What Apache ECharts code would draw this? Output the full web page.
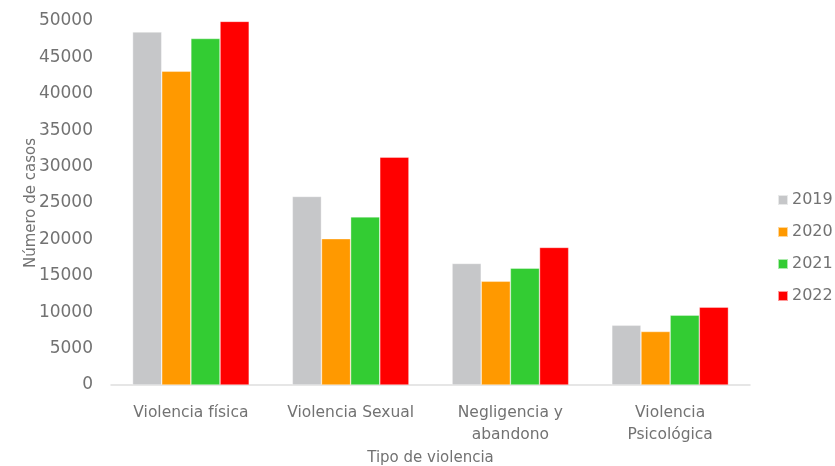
<!DOCTYPE html>
<html>
<head>
<meta charset="utf-8">
<script src="https://cdn.jsdelivr.net/npm/echarts@6/dist/echarts.min.js"></script>
<style>
  html, body { margin: 0; padding: 0; background: #fff; }
  #chart { width: 835px; height: 466px; }
</style>
</head>
<body>
<div id="chart"></div>
<script>
// Tipos de violencia (eje X)
const categories = ['Violencia física', 'Violencia Sexual', 'Negligencia y\nabandono', 'Violencia\nPsicológica'];

// Número de casos por año
const years = ['2019', '2020', '2021', '2022'];
const cases2019 = [48500, 25900, 16700, 8200];
const cases2020 = [43100, 20100, 14250, 7350];
const cases2021 = [47600, 23100, 16050, 9600];
const cases2022 = [49950, 31300, 18900, 10700];

const yTicks = { min: 0, max: 50000, interval: 5000 };

const colors = ['#C6C7C9', '#FF9900', '#33CC33', '#FF0000'];
const seriesValues = [cases2019, cases2020, cases2021, cases2022];

const textColor = '#727272';
const font = 'DejaVu Sans';

const chart = echarts.init(document.getElementById('chart'));
chart.setOption({
  animation: false,
  textStyle: { fontFamily: font, color: textColor },
  color: colors,
  grid: { left: 111, right: 85, top: 21, bottom: 81, containLabel: false, outerBoundsMode: 'none' },
  legend: {
    orient: 'vertical',
    left: 777,
    top: 192,
    padding: 0,
    itemWidth: 10,
    itemHeight: 10,
    itemGap: 16,
    icon: 'rect',
    textStyle: { fontFamily: font, fontSize: 16, color: textColor, padding: [0, 0, 0, -1] },
    data: years
  },
  xAxis: {
    type: 'category',
    data: categories,
    name: 'Tipo de violencia',
    nameLocation: 'middle',
    nameGap: 66,
    nameMoveOverlap: false,
    nameTextStyle: { fontFamily: font, fontSize: 15, color: textColor },
    axisLine: { lineStyle: { color: '#DEDEDE', width: 1.5 } },
    axisTick: { show: false },
    axisLabel: { fontFamily: font, fontSize: 15.5, color: textColor, margin: 17, lineHeight: 22, interval: 0 }
  },
  yAxis: {
    type: 'value',
    min: yTicks.min,
    max: yTicks.max,
    interval: yTicks.interval,
    name: 'Número de casos',
    nameLocation: 'middle',
    nameGap: 72,
    nameMoveOverlap: false,
    nameTextStyle: { fontFamily: font, fontSize: 15, color: textColor },
    axisLine: { show: false },
    axisTick: { show: false },
    splitLine: { show: false },
    axisLabel: { fontFamily: font, fontSize: 17, color: textColor, margin: 18, formatter: v => String(v) }
  },
  series: years.map((y, i) => ({
    name: y,
    type: 'bar',
    data: seriesValues[i],
    barGap: '0%',
    barCategoryGap: '27%',
    itemStyle: { color: colors[i], borderColor: 'rgba(255,255,255,0.6)', borderWidth: 0.6 }
  }))
});
</script>
</body>
</html>
